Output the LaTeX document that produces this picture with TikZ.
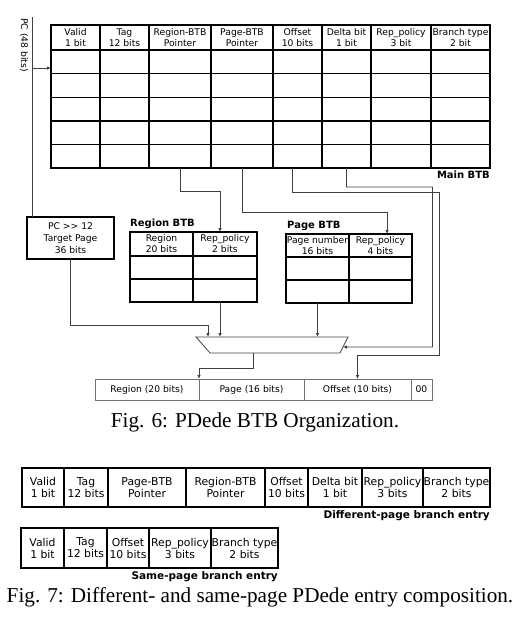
\documentclass[tikz,border=0pt]{standalone}
\usepackage{fontspec}
\setmainfont{DejaVu Sans}
\newfontfamily\capfont{Liberation Serif}
\usetikzlibrary{positioning,arrows.meta,calc}

\begin{document}
\begin{tikzpicture}[
    x=1pt, y=-1pt,
    cell/.style={draw=black, line width=1.1pt, inner sep=0pt, outer sep=0pt, anchor=north west, align=center, font=\fontsize{9.2}{11}\selectfont},
    big/.style={font=\fontsize{10.8}{12}\selectfont},
    faint/.style={draw=black!55, line width=0.8pt},
    title/.style={inner sep=0pt, font=\bfseries\fontsize{10}{12}\selectfont},
    bigtitle/.style={title, font=\bfseries\fontsize{10.5}{12}\selectfont},
    caption/.style={inner sep=0pt, font=\capfont\fontsize{21.2}{24}\selectfont},
    wire/.style={draw=black!75, line width=0.8pt},
    arrow/.style={wire, -{Latex[length=4pt, width=3.5pt]}}
]
\useasboundingbox (0,0) rectangle (520,625);

% Main BTB
\foreach \l/\r/\txt [count=\c] in {51/100/{Valid\\1 bit}, 100/149/{Tag\\12 bits}, 149/211/{Region-BTB\\Pointer}, 211/273/{Page-BTB\\Pointer}, 273/322/{Offset\\10 bits}, 322/371/{Delta bit\\1 bit}, 371/431/{Rep\_policy\\3 bit}, 431/490/{Branch type\\2 bit}} {
  \node[cell, line width=1.4pt, minimum width=\r-\l, minimum height=25] (main-0-\c) at (\l,25) {\txt};
  \foreach \k in {1,...,5}
    \node[cell, line width=1.4pt, minimum width=\r-\l, minimum height=23.6] (main-\k-\c) at (\l,{26.4+\k*23.6}) {};
}
\node[title, anchor=base east] (mainlbl) at ([yshift=-10.7pt]main-5-8.south east) {Main BTB};

% PC input
\coordinate (pctop) at (32,17);
\coordinate (pcsplit) at (32,68);
\node[rotate=-90, inner sep=0pt, font=\fontsize{9.2}{11}\selectfont] (pclbl) at (24,45) {PC (48 bits)};
\node[cell, minimum width=87, minimum height=42, font=\fontsize{9.2}{12}\selectfont] (pcbox) at (27,217) {PC >\kern0pt> 12\\Target Page\\36 bits};
\draw[wire] (pctop) -- (pctop |- pcbox.north);
\draw[arrow] (pcsplit) -- (pcsplit -| main-1-1.west);

% Region BTB
\foreach \l/\r/\txt [count=\c] in {130/193/{Region\\20 bits}, 193/257/{Rep\_policy\\2 bits}} {
  \node[cell, minimum width=\r-\l, minimum height=24] (reg-0-\c) at (\l,232) {\txt};
  \foreach \k in {1,2}
    \node[cell, minimum width=\r-\l, minimum height=23] (reg-\k-\c) at (\l,{233+\k*23}) {};
}
\node[title, anchor=base west] (reglbl) at ([yshift=5.4pt]reg-0-1.north west) {Region BTB};

% Page BTB
\foreach \l/\r/\txt [count=\c] in {286/349/{Page number\\16 bits}, 349/412/{Rep\_policy\\4 bits}} {
  \node[cell, minimum width=\r-\l, minimum height=23] (pg-0-\c) at (\l,234) {\txt};
  \foreach \k in {1,2}
    \node[cell, minimum width=\r-\l, minimum height=23] (pg-\k-\c) at (\l,{234+\k*23}) {};
}
\node[title, anchor=base west] (pglbl) at ([yshift=5.4pt,xshift=1pt]pg-0-1.north west) {Page BTB};

% Mux
\node[anchor=north west, minimum width=152, minimum height=16, inner sep=0pt, outer sep=0pt] (mux) at (196,337) {};
\draw[wire] (mux.north west) -- (mux.north east) -- ([xshift=-8pt]mux.south east) -- ([xshift=14pt]mux.south west) -- cycle;
\coordinate (mux-sel) at ($(mux.north east)!0.625!([xshift=-8pt]mux.south east)$);

% Target address
\foreach \l/\r/\txt [count=\c] in {95/199/{Region (20 bits)}, 199/304/{Page (16 bits)}, 304/411/{Offset (10 bits)}, 411/432/00}
  \node[cell, faint, minimum width=\r-\l, minimum height=21] (outr-\c) at (\l,379) {\txt};

% Pointers from the main BTB
\draw[arrow] (main-5-3.south) -- ++(0,23) -| ([xshift=-5pt]reg-0-2.north);
\draw[arrow] (main-5-4.south) -- ++(0,44) -| ([xshift=6.5pt]pg-0-2.north);
\draw[arrow] (main-5-6.south) -- ++(0,19) -| ++(86,160) -- (mux-sel);
\draw[arrow] ([xshift=-5pt]main-5-5.south) -- ++(0,24) -| ++(147,163) -| (outr-3.north);

% Into and out of the mux
\draw[arrow] (pcbox.south) |- ([xshift=12pt,yshift=12pt]mux.north west) -- ([xshift=12pt]mux.north west);
\draw[arrow] ([xshift=-5pt]reg-2-2.south) -- ([xshift=-5pt]reg-2-2.south |- mux.north);
\draw[arrow] (pg-2-1.south) -- (pg-2-1.south |- mux.north);
\draw[arrow] ([xshift=57pt]mux.south west) -- ++(0,15) -| (outr-1.north east);

\node[caption] (fig6) at (255,422) {Fig. 6: PDede BTB Organization.};

% Entry formats
\foreach \l/\r/\txt [count=\c] in {22/64/{Valid\\1 bit}, 64/108/{Tag\\12 bits}, 108/186/{Page-BTB\\Pointer}, 186/265/{Region-BTB\\Pointer}, 265/308/{Offset\\10 bits}, 308/362/{Delta bit\\1 bit}, 362/423/{Rep\_policy\\3 bits}, 423/490/{Branch type\\2 bits}}
  \node[cell, big, minimum width=\r-\l, minimum height=39] (diff-\c) at (\l,468) {\txt};
\node[bigtitle, anchor=base east] (difflbl) at ([yshift=-11.5pt]diff-8.south east) {Different-page branch entry};

\foreach \l/\r/\txt [count=\c] in {21/64/{Valid\\1 bit}, 64/107/{Tag\\12 bits}, 107/149/{Offset\\10 bits}, 149/211/{Rep\_policy\\3 bits}, 211/278/{Branch type\\2 bits}}
  \node[cell, big, minimum width=\r-\l, minimum height=40] (same-\c) at (\l,528) {\txt};
\node[bigtitle, anchor=base east] (samelbl) at ([yshift=-11.5pt]same-5.south east) {Same-page branch entry};

\node[caption] (fig7) at (260,597) {Fig. 7: Different- and same-page PDede entry composition.};
\end{tikzpicture}
\end{document}
